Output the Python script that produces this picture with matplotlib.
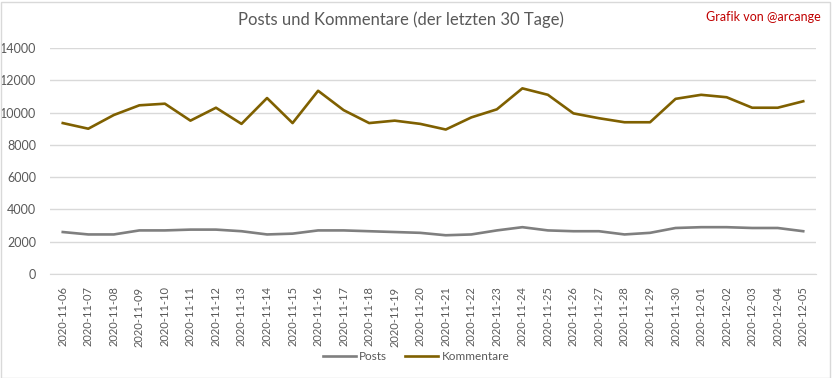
import matplotlib
matplotlib.use("Agg")
import matplotlib.pyplot as plt
from matplotlib.patches import Rectangle

plt.rcParams["font.family"] = ["Lato", "DejaVu Sans"]

dates = ["2020-11-06", "2020-11-07", "2020-11-08", "2020-11-09", "2020-11-10",
         "2020-11-11", "2020-11-12", "2020-11-13", "2020-11-14", "2020-11-15",
         "2020-11-16", "2020-11-17", "2020-11-18", "2020-11-19", "2020-11-20",
         "2020-11-21", "2020-11-22", "2020-11-23", "2020-11-24", "2020-11-25",
         "2020-11-26", "2020-11-27", "2020-11-28", "2020-11-29", "2020-11-30",
         "2020-12-01", "2020-12-02", "2020-12-03", "2020-12-04", "2020-12-05"]

posts = [2600, 2450, 2450, 2700, 2700, 2750, 2750, 2650, 2450, 2500,
         2700, 2700, 2650, 2600, 2550, 2400, 2450, 2700, 2900, 2700,
         2650, 2650, 2450, 2550, 2850, 2900, 2900, 2850, 2850, 2650]

kommentare = [9350, 9000, 9850, 10450, 10550, 9500, 10300, 9300, 10900, 9350,
              11350, 10150, 9350, 9500, 9300, 8950, 9700, 10200, 11500, 11100,
              9950, 9650, 9400, 9400, 10850, 11100, 10950, 10300, 10300, 10700]

W, H = 832, 378
fig = plt.figure(figsize=(W / 100, H / 100), dpi=100)
fig.patch.set_facecolor("white")
fig.patches.append(Rectangle((0.5 / W, 0.5 / H), (W - 3) / W, (H - 2) / H,
                             transform=fig.transFigure, fill=False,
                             edgecolor="#d9d9d9", linewidth=1))

ax = fig.add_axes([50 / W, 1 - 274 / H, 766 / W, 226 / H])
x = list(range(len(dates)))
ax.plot(x, posts, color="#7f7f7f", linewidth=1.9, label="Posts")
ax.plot(x, kommentare, color="#7f6000", linewidth=1.9, label="Kommentare")

ax.set_xlim(-0.5, len(dates) - 0.5)
ax.set_ylim(0, 14000)
ax.set_yticks(range(0, 14001, 2000))
ax.set_xticks(x)
ax.set_xticklabels(dates, rotation=90)
ax.grid(axis="y", color="#d9d9d9", linewidth=1)
ax.set_axisbelow(True)
for s in ["top", "right", "left"]:
    ax.spines[s].set_visible(False)
ax.spines["bottom"].set_color("#d9d9d9")
ax.tick_params(axis="y", length=0, labelsize=9, colors="#595959", pad=10)
ax.tick_params(axis="x", length=0, labelsize=8, colors="#595959", pad=9)

fig.text(401 / W, 1 - 20 / H, "Posts und Kommentare (der letzten 30 Tage)",
         ha="center", va="center", fontsize=12, color="#595959")
fig.text(821 / W, 1 - 17 / H, "Grafik von @arcange", ha="right", va="center",
         fontsize=9, color="#c00000")

fig.legend(loc="center", bbox_to_anchor=(416 / W, 1 - 357 / H), ncol=2,
           frameon=False, fontsize=8.5, labelcolor="#595959", handlelength=2.8,
           columnspacing=1.5, handletextpad=0.3)

fig.savefig("out.png", dpi=100, facecolor="white")
